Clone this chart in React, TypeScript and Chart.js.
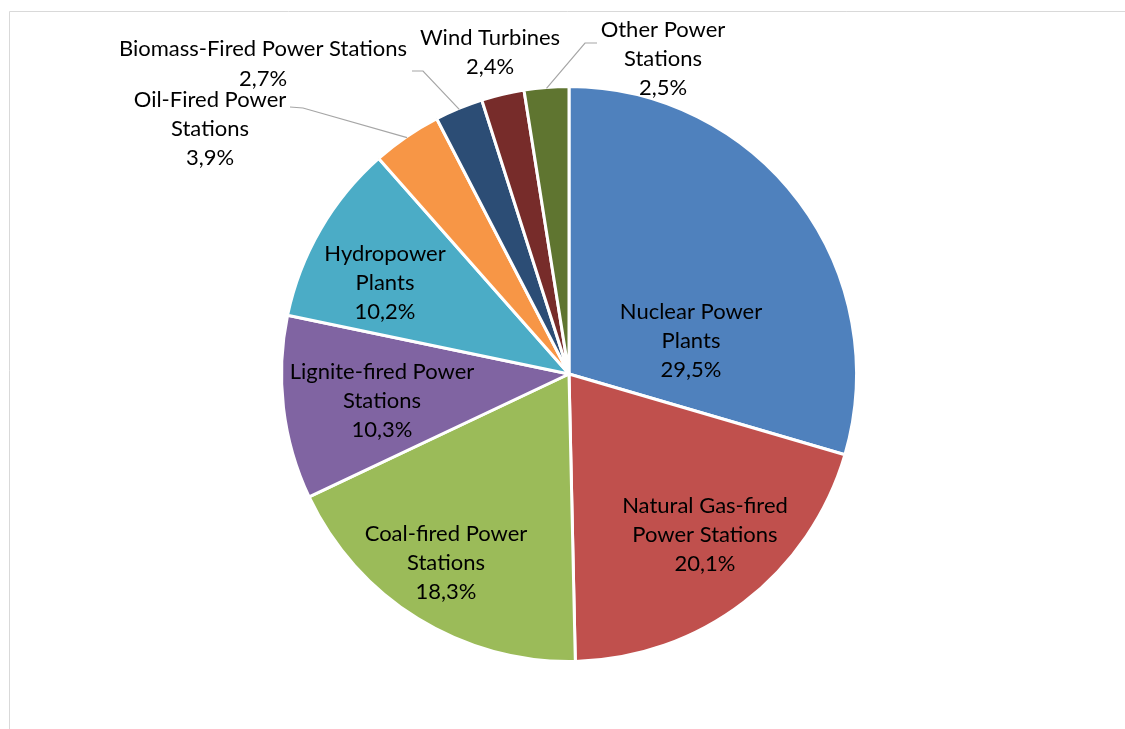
import React, { useEffect, useRef } from 'react';
import { Chart, registerables } from 'chart.js';

Chart.register(...registerables);

// ---- data ----
const categories: string[] = [
  'Nuclear Power Plants',
  'Natural Gas-fired Power Stations',
  'Coal-fired Power Stations',
  'Lignite-fired Power Stations',
  'Hydropower Plants',
  'Oil-Fired Power Stations',
  'Biomass-Fired Power Stations',
  'Wind Turbines',
  'Other Power Stations',
];
const shares: number[] = [29.5, 20.1, 18.3, 10.3, 10.2, 3.9, 2.7, 2.4, 2.5];
const labelLines: string[][] = [
  ['Nuclear Power', 'Plants'],
  ['Natural Gas-fired', 'Power Stations'],
  ['Coal-fired Power', 'Stations'],
  ['Lignite-fired Power', 'Stations'],
  ['Hydropower', 'Plants'],
  ['Oil-Fired Power', 'Stations'],
  ['Biomass-Fired Power Stations'],
  ['Wind Turbines'],
  ['Other Power', 'Stations'],
];

// ---- styles / layout ----
const sliceColors = ['#4F81BD', '#C0504D', '#9BBB59', '#8064A2', '#4BACC6', '#F79646', '#2C4D75', '#772C2A', '#5F7530'];
// label block centre, offset from pie centre (px)
const labelOffsets: [number, number][] = [
  [122, -33], [136, 161], [-123, 189], [-187, 27], [-184, -91],
  [-359, -245], [-306, -310], [-79, -321.5], [94, -315],
];
// leader line start & elbow, offset from pie centre (null = no leader)
const leaders: ([number, number][] | null)[] = [
  null, null, null, null, null,
  [[-279, -267], [-266, -266]],
  [[-157, -303], [-146, -303]],
  null,
  [[28, -331], [16, -331]],
];
const FONT = '22px Lato, Carlito, Calibri, sans-serif';
const LINE_H = 29.3;

const fmt = (v: number) => v.toFixed(1).replace('.', ',') + '%';

const framePlugin = {
  id: 'frame',
  beforeDraw(chart: any) {
    const c = chart.ctx;
    c.save();
    c.strokeStyle = '#d9d9d9';
    c.lineWidth = 1;
    c.beginPath();
    c.moveTo(9.5, 729);
    c.lineTo(9.5, 11.5);
    c.lineTo(1125, 11.5);
    c.stroke();
    c.restore();
  },
};

const labelPlugin = {
  id: 'sliceLabels',
  afterDatasetsDraw(chart: any) {
    const c = chart.ctx;
    const meta = chart.getDatasetMeta(0);
    c.save();
    c.font = FONT;
    c.fillStyle = '#000';
    c.textAlign = 'center';
    c.textBaseline = 'middle';
    meta.data.forEach((arc: any, i: number) => {
      const { x, y, startAngle, endAngle, outerRadius } = arc.getProps(['x', 'y', 'startAngle', 'endAngle', 'outerRadius'], true);
      const lines = [...labelLines[i], fmt(shares[i])];
      const [dx, dy] = labelOffsets[i];
      const top = y + dy - ((lines.length - 1) * LINE_H) / 2;
      lines.forEach((t, k) => c.fillText(t, x + dx, top + k * LINE_H));
      const ld = leaders[i];
      if (ld) {
        const mid = (startAngle + endAngle) / 2;
        const ex = x + Math.cos(mid) * (outerRadius - 1);
        const ey = y + Math.sin(mid) * (outerRadius - 1);
        c.strokeStyle = '#a6a6a6';
        c.lineWidth = 1.2;
        c.beginPath();
        c.moveTo(x + ld[0][0], y + ld[0][1]);
        c.lineTo(x + ld[1][0], y + ld[1][1]);
        c.lineTo(ex, ey);
        c.stroke();
      }
    });
    c.restore();
  },
};

export default function App() {
  const ref = useRef<HTMLCanvasElement | null>(null);
  useEffect(() => {
    if (!ref.current) return;
    const chart = new Chart(ref.current, {
      type: 'pie',
      data: {
        labels: categories,
        datasets: [
          {
            data: shares,
            backgroundColor: sliceColors,
            borderColor: '#ffffff',
            borderWidth: 3,
          },
        ],
      },
      options: {
        responsive: false,
        animation: false,
        layout: { padding: { left: 280, right: 267, top: 85, bottom: 66 } },
        plugins: { legend: { display: false }, tooltip: { enabled: false } },
      },
      plugins: [framePlugin, labelPlugin],
    });
    return () => chart.destroy();
  }, []);
  return (
    <div style={{ position: 'absolute', left: 0, top: 0, width: 1125, height: 729, background: '#fff' }}>
      <canvas ref={ref} width={1125} height={729} />
    </div>
  );
}
